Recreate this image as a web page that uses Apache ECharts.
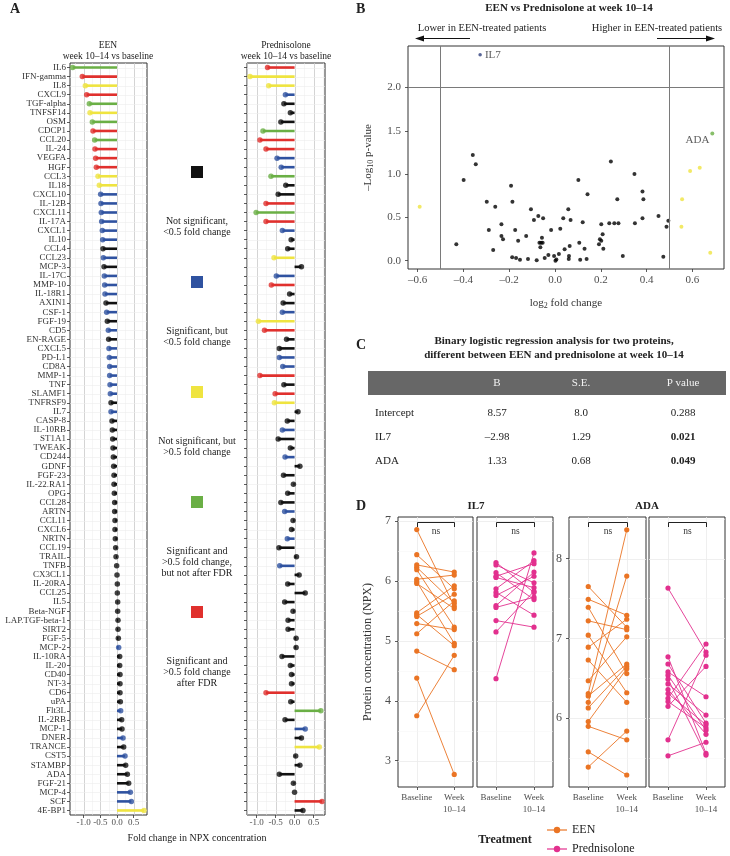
<!DOCTYPE html>
<html>
<head>
<meta charset="utf-8">
<script src="https://cdn.jsdelivr.net/npm/echarts@6/dist/echarts.min.js"></script>
<style>
  html, body { margin: 0; padding: 0; background: #fff; }
  #main { width: 730px; height: 856px; }
</style>
</head>
<body>
<div id="main"></div>
<script>
  // ---- panel A: fold change per protein ----
  var proteins = ['IL6','IFN-gamma','IL8','CXCL9','TGF-alpha','TNFSF14','OSM','CDCP1','CCL20','IL-24','VEGFA','HGF','CCL3','IL18','CXCL10','IL-12B','CXCL11','IL-17A','CXCL1','IL10','CCL4','CCL23','MCP-3','IL-17C','MMP-10','IL-18R1',
    'AXIN1','CSF-1','FGF-19','CD5','EN-RAGE','CXCL5','PD-L1','CD8A','MMP-1','TNF','SLAMF1','TNFRSF9','IL7','CASP-8','IL-10RB','ST1A1','TWEAK','CD244','GDNF','FGF-23','IL-22.RA1','OPG','CCL28','ARTN','CCL11','CXCL6','NRTN','CCL19','TRAIL','TNFB','CX3CL1','IL-20RA',
    'CCL25','IL5','Beta-NGF','LAP.TGF-beta-1','SIRT2','FGF-5','MCP-2','IL-10RA','IL-20','CD40','NT-3','CD6','uPA','Flt3L','IL-2RB','MCP-1','DNER','TRANCE','CST5','STAMBP','ADA','FGF-21','MCP-4','SCF','4E-BP1']
  var eenFc = [-1.33,-1.04,-0.95,-0.91,-0.83,-0.81,-0.74,-0.72,-0.67,-0.66,-0.64,-0.62,-0.57,-0.53,-0.49,-0.48,-0.47,-0.46,-0.44,-0.43,-0.42,-0.41,-0.39,-0.38,-0.37,-0.36,
    -0.33,-0.31,-0.29,-0.26,-0.25,-0.24,-0.23,-0.22,-0.22,-0.21,-0.20,-0.18,-0.18,-0.15,-0.14,-0.13,-0.12,-0.11,-0.10,-0.09,-0.09,-0.08,-0.07,-0.07,-0.06,-0.06,-0.05,-0.04,-0.03,-0.01,0.00,0.01,
    0.01,0.02,0.02,0.03,0.03,0.04,0.05,0.08,0.08,0.09,0.09,0.09,0.10,0.11,0.14,0.15,0.18,0.20,0.24,0.26,0.31,0.35,0.40,0.43,0.81]
  var eenSig = ('g r y r g y g r g r r r y y b b b b b b k b k b b b ' +
    'k b k b k b b b b b b k b k k k k k k k k k k k k k k k k k k k ' +
    'k k k k k k b k k k k k k b k k b k b k k k b b y').split(' ')
  var predFc = [-0.71,-1.17,-0.68,-0.24,-0.28,-0.11,-0.36,-0.83,-0.91,-0.75,-0.46,-0.35,-0.62,-0.23,-0.43,-0.75,-1.01,-0.75,-0.32,-0.09,-0.18,-0.54,0.18,-0.48,-0.61,-0.13,
    -0.30,-0.32,-0.95,-0.79,-0.21,-0.40,-0.40,-0.31,-0.91,-0.28,-0.51,-0.53,0.09,-0.19,-0.32,-0.43,-0.11,-0.25,0.14,-0.29,-0.03,-0.18,-0.36,-0.26,-0.04,-0.08,-0.19,-0.41,0.05,-0.39,0.12,-0.18,
    0.28,-0.26,-0.04,-0.17,-0.17,0.04,0.04,-0.33,-0.11,-0.08,-0.08,-0.75,-0.10,0.69,-0.25,0.28,0.18,0.65,0.03,0.14,-0.40,-0.03,0.00,0.72,0.22]
  var predSig = ('r y y b k k k g r r b b g k k r g r b k k y k b r k ' +
    'k b y r k k b b r k r y k k b k k b k k k k k b k k b k k b k k ' +
    'k k k k k k k k k k k r k g k b k y k k k k k r k').split(' ')
  var xTicksA = [-1, -0.5, 0, 0.5]
  var legendText = ['Not significant,\n<0.5 fold change', 'Significant, but\n<0.5 fold change', 'Not significant, but\n>0.5 fold change',
    'Significant and\n>0.5 fold change,\nbut not after FDR', 'Significant and\n>0.5 fold change\nafter FDR']
  var legendKeys = ['k', 'b', 'y', 'g', 'r']

  // ---- panel B: volcano ----
  var volBlack = [[-0.431,0.189],[-0.399,0.933],[-0.359,1.222],[-0.346,1.114],[-0.298,0.682],[-0.289,0.355],[-0.270,0.123],[-0.261,0.624],[-0.234,0.420],[-0.234,0.285],
    [-0.227,0.247],[-0.192,0.867],[-0.186,0.682],[-0.174,0.355],[-0.161,0.231],[-0.187,0.039],[-0.126,0.285],[-0.105,0.593],[-0.092,0.470],[-0.073,0.516],
    [-0.052,0.489],[-0.068,0.208],[-0.061,0.208],[-0.054,0.208],[-0.057,0.266],[-0.064,0.154],[-0.017,0.355],[-0.029,0.066],[-0.004,0.054],[0.017,0.077],
    [0.006,0.015],[0.023,0.370],[0.036,0.489],[0.042,0.131],[0.058,0.593],[0.068,0.470],[0.064,0.170],[0.061,0.054],[0.102,0.933],[0.106,0.208],
    [0.121,0.443],[0.129,0.139],[0.142,0.767],[0.192,0.189],[0.196,0.247],[0.202,0.231],[0.202,0.420],[0.208,0.304],[0.211,0.139],[0.237,0.432],
    [0.244,1.145],[0.259,0.432],[0.277,0.432],[0.272,0.709],[0.296,0.054],[0.347,1.002],[0.349,0.432],[0.382,0.798],[0.386,0.709],[0.382,0.489],
    [0.452,0.516],[0.487,0.393],[0.495,0.462],[0.473,0.046],[-0.153,0.010],[-0.118,0.020],[-0.080,0.005],[-0.045,0.030],[0.002,0.000],[0.060,0.020],
    [0.110,0.010],[0.138,0.020],[-0.170,0.030]]
  var volYellow = [[-0.591,0.624],[0.590,1.037],[0.632,1.075],[0.555,0.709],[0.552,0.393],[0.678,0.092]]
  var volAda = [[0.687,1.47]]
  var volIl7 = [[-0.327,2.38]]
  var volXTicks = [-0.6, -0.4, -0.2, 0, 0.2, 0.4, 0.6]
  var volYTicks = [0, 0.5, 1, 1.5, 2]

  // ---- panel C: regression table ----
  var tabHead = ['B', 'S.E.', 'P value']
  var tabRows = ['Intercept', 'IL7', 'ADA']
  var tabB = ['8.57', '\u20132.98', '1.33']
  var tabSE = ['8.0', '1.29', '0.68']
  var tabP = ['0.288', '0.021', '0.049']
  var tabBold = [false, true, true]

  // ---- panel D: paired NPX values ----
  var timepoints = ['Baseline', 'Week\n10\u201314']
  var il7EenBase = [6.86,6.44,6.27,6.23,6.19,6.03,5.99,5.96,5.47,5.44,5.41,5.29,5.12,4.83,4.38,3.75]
  var il7EenWeek = [5.58,5.87,6.15,5.63,5.23,6.10,4.96,5.54,5.92,4.92,5.78,5.19,5.67,4.52,2.77,4.76]
  var il7PredBase = [6.31,6.27,6.14,6.08,6.06,5.87,5.81,5.76,5.59,5.56,5.34,5.15,4.37]
  var il7PredWeek = [5.81,5.97,5.69,6.29,5.89,6.34,5.43,6.08,6.15,5.73,5.23,5.83,6.47]
  var adaEenBase = [7.65,7.49,7.39,7.22,7.04,6.89,6.73,6.47,6.31,6.28,6.20,6.13,5.96,5.90,5.58,5.39]
  var adaEenWeek = [7.14,7.29,6.56,7.11,6.32,7.24,6.20,7.02,8.36,6.68,7.78,6.65,6.62,5.73,5.29,5.84]
  var adaPredBase = [7.63,6.77,6.68,6.58,6.54,6.49,6.43,6.36,6.31,6.25,6.21,6.15,5.73,5.53]
  var adaPredWeek = [6.83,5.56,5.94,6.27,5.85,5.54,6.04,5.80,5.92,6.93,5.88,6.65,6.79,5.70]
  var il7Ticks = [3, 4, 5, 6, 7]
  var adaTicks = [6, 7, 8]

  var FONT = 'Liberation Serif'
  var COL = { k: '#111111', b: '#2f52a0', y: '#efe440', g: '#6aaf45', r: '#e0302d' }
  var ORANGE = '#ea7424'
  var PINK = '#e2308e'

  function fmtDash (v) { return (v < 0 ? '\u2013' : '') + Math.abs(v).toFixed(1) }

  function gridLines (gi, ref, xs, ys) {
    // xs / ys: [value, colour, width]
    return {
      type: 'custom', xAxisIndex: gi, yAxisIndex: gi, silent: true, z: 1,
      data: [ref],
      renderItem: function (params, api) {
        var cs = params.coordSys
        var kids = []
        xs.forEach(function (d) {
          var x = Math.round(api.coord([d[0], ref[1]])[0]) + 0.5
          kids.push({ type: 'line', shape: { x1: x, y1: cs.y, x2: x, y2: cs.y + cs.height }, style: { stroke: d[1], lineWidth: d[2] } })
        })
        ys.forEach(function (d) {
          var y = Math.round(api.coord([ref[0], d[0]])[1]) + 0.5
          kids.push({ type: 'line', shape: { x1: cs.x, y1: y, x2: cs.x + cs.width, y2: y }, style: { stroke: d[1], lineWidth: d[2] } })
        })
        return { type: 'group', children: kids }
      }
    }
  }

  function lollipop (gi, fc, sig) {
    return [
      { type: 'bar', xAxisIndex: gi, yAxisIndex: gi, barWidth: 2.6, z: 3, silent: true,
        data: fc.map(function (v, i) { return { value: v, itemStyle: { color: COL[sig[i]] } } }) },
      { type: 'scatter', xAxisIndex: gi, yAxisIndex: gi, symbolSize: 5.5, z: 4, silent: true,
        data: fc.map(function (v, i) { return { value: [v, i], itemStyle: { color: COL[sig[i]] } } }) }
    ]
  }

  function pairs (gi, base, week, color) {
    return {
      type: 'custom', xAxisIndex: gi, yAxisIndex: gi, z: 3, silent: true,
      data: base.map(function (b, i) { return [0, b, week[i]] }),
      encode: { x: 0, y: [1, 2] },
      renderItem: function (params, api) {
        var p1 = api.coord([0, api.value(1)])
        var p2 = api.coord([1, api.value(2)])
        return { type: 'group', children: [
          { type: 'line', shape: { x1: p1[0], y1: p1[1], x2: p2[0], y2: p2[1] }, style: { stroke: color, lineWidth: 0.9 } },
          { type: 'circle', shape: { cx: p1[0], cy: p1[1], r: 2.6 }, style: { fill: color } },
          { type: 'circle', shape: { cx: p2[0], cy: p2[1], r: 2.6 }, style: { fill: color } }
        ] }
      }
    }
  }

  function bracket (gi, ref) {
    return {
      type: 'custom', xAxisIndex: gi, yAxisIndex: gi, z: 5, silent: true,
      data: [[0, ref]],
      renderItem: function (params, api) {
        var cs = params.coordSys
        var x1 = Math.round(api.coord([0, ref])[0]) + 0.5
        var x2 = Math.round(api.coord([1, ref])[0]) + 0.5
        var y = Math.round(cs.y + 5) + 0.5
        return { type: 'group', children: [
          { type: 'polyline', shape: { points: [[x1, y + 4.5], [x1, y], [x2, y], [x2, y + 4.5]] }, style: { stroke: '#222', lineWidth: 1, fill: null } },
          { type: 'text', style: { text: 'ns', x: (x1 + x2) / 2, y: y + 9, align: 'center', verticalAlign: 'middle', textAlign: 'center', textVerticalAlign: 'middle', fontSize: 9.5, fontFamily: FONT, fill: '#333' } }
        ] }
      }
    }
  }

  function valAxis (gi, min, max, ticks, fmt, size, margin, showLabel) {
    return {
      gridIndex: gi, type: 'value', min: min, max: max,
      axisLine: { show: false, onZero: false }, splitLine: { show: false },
      axisTick: { show: showLabel, customValues: ticks, length: 3, lineStyle: { color: '#333', width: 0.8 } },
      axisLabel: { show: showLabel, customValues: ticks, formatter: fmt, fontSize: size, color: '#4d4d4d', margin: margin, fontFamily: FONT }
    }
  }

  function catY (gi, showLabel) {
    return {
      gridIndex: gi, type: 'category', data: proteins, inverse: true, boundaryGap: true,
      axisLine: { show: false, onZero: false }, splitLine: { show: false },
      axisTick: { show: true, alignWithLabel: true, interval: 0, length: 3, lineStyle: { color: '#333', width: 0.8 } },
      axisLabel: { show: showLabel, interval: 0, fontSize: 9, color: '#333', margin: 4, fontFamily: FONT }
    }
  }

  function catX (gi) {
    return {
      gridIndex: gi, type: 'category', data: timepoints, boundaryGap: true,
      axisLine: { show: false, onZero: false }, splitLine: { show: false },
      axisTick: { show: true, alignWithLabel: true, length: 3, lineStyle: { color: '#333', width: 0.8 } },
      axisLabel: { interval: 0, fontSize: 9, lineHeight: 12, color: '#4d4d4d', margin: 5, fontFamily: FONT }
    }
  }

  function txt (x, y, s, size, bold, extra) {
    var st = { text: s, x: 0, y: 0, fill: '#222', font: (bold ? 'bold ' : '') + size + 'px "Liberation Serif"',
      textAlign: 'center', align: 'center', textVerticalAlign: 'middle', verticalAlign: 'middle' }
    if (extra) { for (var k in extra) st[k] = extra[k] }
    return { type: 'text', x: x, y: y, silent: true, style: st }
  }

  var gridBase = { show: true, borderColor: '#333', borderWidth: 1, backgroundColor: '#fff', containLabel: false, outerBoundsMode: 'none' }
  var grids = [
    { left: 70, top: 63, width: 77, height: 752 },
    { left: 247, top: 63, width: 78, height: 752 },
    { left: 408, top: 46, width: 316, height: 223 },
    { left: 398, top: 517, width: 75, height: 270 },
    { left: 477, top: 517, width: 76, height: 270 },
    { left: 569, top: 517, width: 77, height: 270 },
    { left: 649, top: 517, width: 76, height: 270 }
  ].map(function (g) { return Object.assign({}, gridBase, g) })

  var rowLines = proteins.map(function (p, i) { return [i, '#ececec', 0.6] })
  var aXLines = xTicksA.map(function (v) { return [v, '#c9c9c9', 0.8] })
    .concat([-1.25, -0.75, -0.25, 0.25, 0.75].map(function (v) { return [v, '#ececec', 0.5] }))
  var dXLines = [[0, '#ebebeb', 0.8], [1, '#ebebeb', 0.8]]
  var il7YLines = il7Ticks.map(function (v) { return [v, '#ebebeb', 0.8] })
    .concat([3.5, 4.5, 5.5, 6.5].map(function (v) { return [v, '#f5f5f5', 0.5] }))
  var adaYLines = adaTicks.map(function (v) { return [v, '#ebebeb', 0.8] })
    .concat([5.5, 6.5, 7.5, 8.5].map(function (v) { return [v, '#f5f5f5', 0.5] }))

  var subRich = { sub: { fontSize: 8, fontFamily: FONT, color: '#333', padding: [6, 0, 0, 0] } }

  var series = []
    .concat([gridLines(0, [0, 0], aXLines, rowLines), gridLines(1, [0, 0], aXLines, rowLines)])
    .concat(lollipop(0, eenFc, eenSig))
    .concat(lollipop(1, predFc, predSig))
    .concat([
      { type: 'scatter', xAxisIndex: 2, yAxisIndex: 2, symbolSize: 4, z: 4, silent: true, itemStyle: { color: '#000' }, data: volBlack,
        markLine: { silent: true, symbol: 'none', animation: false, label: { show: false },
          lineStyle: { color: '#7a7a7a', width: 1, type: 'solid' },
          data: [{ xAxis: -0.5 }, { xAxis: 0.5 }, { yAxis: 2 }] } },
      { type: 'scatter', xAxisIndex: 2, yAxisIndex: 2, symbolSize: 4, z: 4, silent: true, itemStyle: { color: COL.y }, data: volYellow },
      { type: 'scatter', xAxisIndex: 2, yAxisIndex: 2, symbolSize: 4, z: 4, silent: true, itemStyle: { color: COL.g }, data: volAda,
        label: { show: true, formatter: 'ADA', position: 'left', distance: 1, offset: [0, 7], fontSize: 11, color: '#333', fontFamily: FONT } },
      { type: 'scatter', xAxisIndex: 2, yAxisIndex: 2, symbolSize: 3.5, z: 4, silent: true, itemStyle: { color: '#2e3f7c' }, data: volIl7,
        label: { show: true, formatter: 'IL7', position: 'right', distance: 3, fontSize: 11, color: '#333', fontFamily: FONT } }
    ])
    .concat([
      gridLines(3, [0, 5], dXLines, il7YLines), gridLines(4, [0, 5], dXLines, il7YLines),
      gridLines(5, [0, 7], dXLines, adaYLines), gridLines(6, [0, 7], dXLines, adaYLines),
      pairs(3, il7EenBase, il7EenWeek, ORANGE), pairs(4, il7PredBase, il7PredWeek, PINK),
      pairs(5, adaEenBase, adaEenWeek, ORANGE), pairs(6, adaPredBase, adaPredWeek, PINK),
      bracket(3, 5), bracket(4, 5), bracket(5, 7), bracket(6, 7)
    ])

  var xAxes = [
    valAxis(0, -1.41, 0.9, xTicksA, function (v) { return v.toFixed(1) }, 9, 3, true),
    valAxis(1, -1.25, 0.8, xTicksA, function (v) { return v.toFixed(1) }, 9, 3, true),
    Object.assign(valAxis(2, -0.642, 0.738, volXTicks, fmtDash, 11, 6, true), {
      name: 'log{sub|2} fold change', nameLocation: 'middle', nameGap: 27,
      nameTextStyle: { fontSize: 11, color: '#333', fontFamily: FONT, rich: subRich } }),
    catX(3), catX(4), catX(5), catX(6)
  ]
  var yAxes = [
    catY(0, true), catY(1, false),
    Object.assign(valAxis(2, -0.096, 2.48, volYTicks, fmtDash, 11, 7, true), {
      name: '\u2013Log{sub|10} p-value', nameLocation: 'middle', nameGap: 33,
      nameTextStyle: { fontSize: 11, color: '#333', fontFamily: FONT, rich: subRich } }),
    Object.assign(valAxis(3, 2.56, 7.07, il7Ticks, function (v) { return String(v) }, 12, 7, true), {
      name: 'Protein concentration (NPX)', nameLocation: 'middle', nameGap: 24,
      nameTextStyle: { fontSize: 12, color: '#333', fontFamily: FONT } }),
    valAxis(4, 2.56, 7.07, il7Ticks, function (v) { return String(v) }, 12, 7, false),
    valAxis(5, 5.14, 8.52, adaTicks, function (v) { return String(v) }, 12, 7, true),
    valAxis(6, 5.14, 8.52, adaTicks, function (v) { return String(v) }, 12, 7, false)
  ]

  // annotations: panel letters, titles, legends, table
  var g = []
  g.push(txt(10, 9, 'A', 14, true, { textAlign: 'left', align: 'left' }))
  g.push(txt(356, 9, 'B', 14, true, { textAlign: 'left', align: 'left' }))
  g.push(txt(356, 345, 'C', 14, true, { textAlign: 'left', align: 'left' }))
  g.push(txt(356, 506, 'D', 14, true, { textAlign: 'left', align: 'left' }))

  g.push(txt(108, 45, 'EEN', 9.5))
  g.push(txt(108, 56, 'week 10\u201314 vs baseline', 9.5))
  g.push(txt(286, 45, 'Prednisolone', 9.5))
  g.push(txt(286, 56, 'week 10\u201314 vs baseline', 9.5))
  g.push(txt(197, 838, 'Fold change in NPX concentration', 10))

  legendKeys.forEach(function (k, i) {
    var y = 172 + i * 110
    g.push({ type: 'rect', silent: true, shape: { x: 191, y: y - 6, width: 12, height: 12 }, style: { fill: COL[k] } })
    g.push(txt(197, y + 44, legendText[i], 10, false, { verticalAlign: 'top', textVerticalAlign: 'top', lineHeight: 11 }))
  })

  g.push(txt(569, 8, 'EEN vs Prednisolone at week 10\u201314', 11, true))
  g.push(txt(482, 28, 'Lower in EEN-treated patients', 10.5))
  g.push(txt(657, 28, 'Higher in EEN-treated patients', 10.5))
  g.push({ type: 'line', silent: true, shape: { x1: 470, y1: 38.5, x2: 421, y2: 38.5 }, style: { stroke: '#111', lineWidth: 1 } })
  g.push({ type: 'polygon', silent: true, shape: { points: [[415, 38.5], [424, 35.5], [424, 41.5]] }, style: { fill: '#111' } })
  g.push({ type: 'line', silent: true, shape: { x1: 657, y1: 38.5, x2: 709, y2: 38.5 }, style: { stroke: '#111', lineWidth: 1 } })
  g.push({ type: 'polygon', silent: true, shape: { points: [[715, 38.5], [706, 35.5], [706, 41.5]] }, style: { fill: '#111' } })

  g.push(txt(554, 341, 'Binary logistic regression analysis for two proteins,', 11, true))
  g.push(txt(554, 355, 'different between EEN and prednisolone at week 10\u201314', 11, true))
  g.push({ type: 'rect', silent: true, shape: { x: 368, y: 371, width: 358, height: 24 }, style: { fill: '#676767' } })
  var colX = [497, 581, 683]
  tabHead.forEach(function (h, i) { g.push(txt(colX[i], 383, h, 11, false, { fill: '#f2f2f2' })) })
  tabRows.forEach(function (r, i) {
    var y = 413 + i * 24
    g.push(txt(375, y, r, 11, false, { textAlign: 'left', align: 'left' }))
    g.push(txt(colX[0], y, tabB[i], 11))
    g.push(txt(colX[1], y, tabSE[i], 11))
    g.push(txt(colX[2], y, tabP[i], 11, tabBold[i]))
  })

  g.push(txt(476, 506, 'IL7', 11, true))
  g.push(txt(647, 506, 'ADA', 11, true))
  g.push(txt(505, 840, 'Treatment', 12, true))
  ;[[ORANGE, 'EEN', 830], [PINK, 'Prednisolone', 849]].forEach(function (d) {
    g.push({ type: 'line', silent: true, shape: { x1: 547, y1: d[2], x2: 567, y2: d[2] }, style: { stroke: d[0], lineWidth: 1.2 } })
    g.push({ type: 'circle', silent: true, shape: { cx: 557, cy: d[2], r: 3.2 }, style: { fill: d[0] } })
    g.push(txt(572, d[2], d[1], 12, false, { textAlign: 'left', align: 'left' }))
  })

  var chart = echarts.init(document.getElementById('main'))
  chart.setOption({
    animation: false,
    backgroundColor: '#fff',
    textStyle: { fontFamily: FONT },
    grid: grids,
    xAxis: xAxes,
    yAxis: yAxes,
    series: series,
    graphic: { elements: g }
  })
  window.addEventListener('resize', function () { chart.resize() })
</script>
</body>
</html>
